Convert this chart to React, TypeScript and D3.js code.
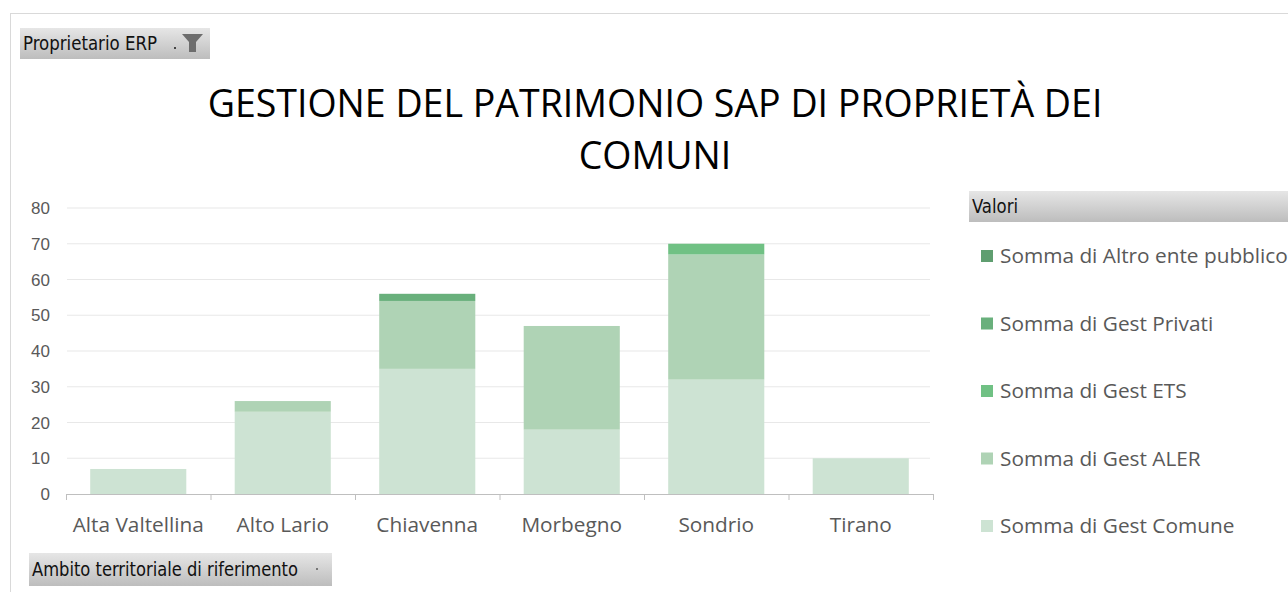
import React from "react";
import * as d3 from "d3";

const categories = ["Alta Valtellina", "Alto Lario", "Chiavenna", "Morbegno", "Sondrio", "Tirano"];
const gestComune = [7, 23, 35, 18, 32, 10];
const gestAler = [0, 3, 19, 29, 35, 0];
const gestEts = [0, 0, 0, 0, 3, 0];
const gestPrivati = [0, 0, 2, 0, 0, 0];
const altroEnte = [0, 0, 0, 0, 0, 0];
const yTicks = [0, 10, 20, 30, 40, 50, 60, 70, 80];
const seriesNames = [
  "Somma di Gest Comune",
  "Somma di Gest ALER",
  "Somma di Gest ETS",
  "Somma di Gest Privati",
  "Somma di Altro ente pubblico",
];
const seriesColors = ["#cde3d3", "#afd3b5", "#70c184", "#69b07c", "#5f9e70"];
const titleLines = ["GESTIONE DEL PATRIMONIO SAP DI PROPRIETÀ DEI", "COMUNI"];

const W = 1288;
const H = 592;

export default function App() {
  const seriesValues = [gestComune, gestAler, gestEts, gestPrivati, altroEnte];
  const rows = categories.map((c, i) => {
    const r: any = { cat: c };
    seriesNames.forEach((s, k) => (r[s] = seriesValues[k][i]));
    return r;
  });
  const stacked = d3.stack().keys(seriesNames)(rows);

  const x = d3.scaleBand().domain(categories).range([66, 933]).paddingInner(0.335).paddingOuter(0.1675);
  const y = d3.scaleLinear().domain([0, 80]).range([494, 208]);
  const font = "'Open Sans', 'Noto Sans', sans-serif";
  const condensed = "'Liberation Sans Narrow', 'DejaVu Sans Condensed', sans-serif";
  const textCol = "#595959";

  const legendOrder = [...seriesNames.map((n, i) => i)].reverse();

  return (
    <svg width={W} height={H} style={{ position: "absolute", left: 0, top: 0, background: "#fff" }}>
      <defs>
        <linearGradient id="btn" x1="0" y1="0" x2="0" y2="1">
          <stop offset="0" stopColor="#e6e6e6" />
          <stop offset="1" stopColor="#bdbdbd" />
        </linearGradient>
      </defs>
      <line x1={10} x2={W} y1={13.5} y2={13.5} stroke="#d9d9d9" />
      <line x1={10.5} x2={10.5} y1={13} y2={H} stroke="#d9d9d9" />

      {/* filter button */}
      <rect x={20} y={28} width={190} height={31} fill="url(#btn)" />
      <text x={23} y={50} fontFamily={condensed} fontSize={20} fill="#111" textLength={134} lengthAdjust="spacingAndGlyphs">Proprietario  ERP</text>
      <rect x={174} y={47} width={2} height={2} fill="#444" />
      <path d="M182,34 L203,34 L196,42 L196,52 L189,52 L189,42 Z" fill="#6d6d6d" />

      {/* title */}
      {titleLines.map((t, i) => (
        <text key={i} x={655} y={117 + i * 52} textAnchor="middle" fontFamily={font} fontSize={37.5} fill="#000">
          {t}
        </text>
      ))}

      {/* gridlines */}
      {yTicks.map((t) => (
        <g key={t}>
          {t > 0 && <line x1={67} x2={930} y1={y(t)} y2={y(t)} stroke="#e8e8e8" strokeWidth={1.2} />}
          <text x={50} y={y(t) + 6} textAnchor="end" fontFamily="'Liberation Sans', Arial, sans-serif" fontSize={17} fill={textCol}>
            {t}
          </text>
        </g>
      ))}

      {/* bars */}
      {stacked.map((s, k) => (
        <g key={s.key} fill={seriesColors[k]}>
          {s.map((d, i) =>
            d[1] - d[0] > 0 ? (
              <rect
                key={i}
                x={x(categories[i])!}
                y={y(d[1])}
                width={x.bandwidth()}
                height={y(d[0]) - y(d[1])}
              />
            ) : null
          )}
        </g>
      ))}

      {/* x axis */}
      <line x1={66} x2={933} y1={494.5} y2={494.5} stroke="#bfbfbf" />
      {[...categories.map((c) => x(c)! - (x.step() - x.bandwidth()) / 2), 933].map((px, i) => (
        <line key={i} x1={px + 0.5} x2={px + 0.5} y1={494} y2={500} stroke="#bfbfbf" />
      ))}
      {categories.map((c) => (
        <text key={c} x={x(c)! + x.bandwidth() / 2} y={532} textAnchor="middle" fontFamily={font} fontSize={20.8} fill={textCol}>
          {c}
        </text>
      ))}

      {/* axis button */}
      <rect x={29} y={553} width={303} height={33} fill="url(#btn)" />
      <text x={32} y={576} fontFamily={condensed} fontSize={20} fill="#111" textLength={266} lengthAdjust="spacingAndGlyphs">Ambito territoriale di riferimento</text>
      <rect x={316} y={568} width={2} height={2} fill="#777" />

      {/* legend */}
      <rect x={969} y={191} width={W - 969} height={31} fill="url(#btn)" />
      <text x={972} y={213} fontFamily={condensed} fontSize={20} fill="#111" textLength={46} lengthAdjust="spacingAndGlyphs">Valori</text>
      {legendOrder.map((k, j) => (
        <g key={k}>
          <rect x={981} y={250 + j * 67.5} width={12} height={12} fill={seriesColors[k]} />
          <text x={1000} y={263 + j * 67.5} fontFamily={font} fontSize={20.8} fill={textCol}>
            {seriesNames[k]}
          </text>
        </g>
      ))}
    </svg>
  );
}
